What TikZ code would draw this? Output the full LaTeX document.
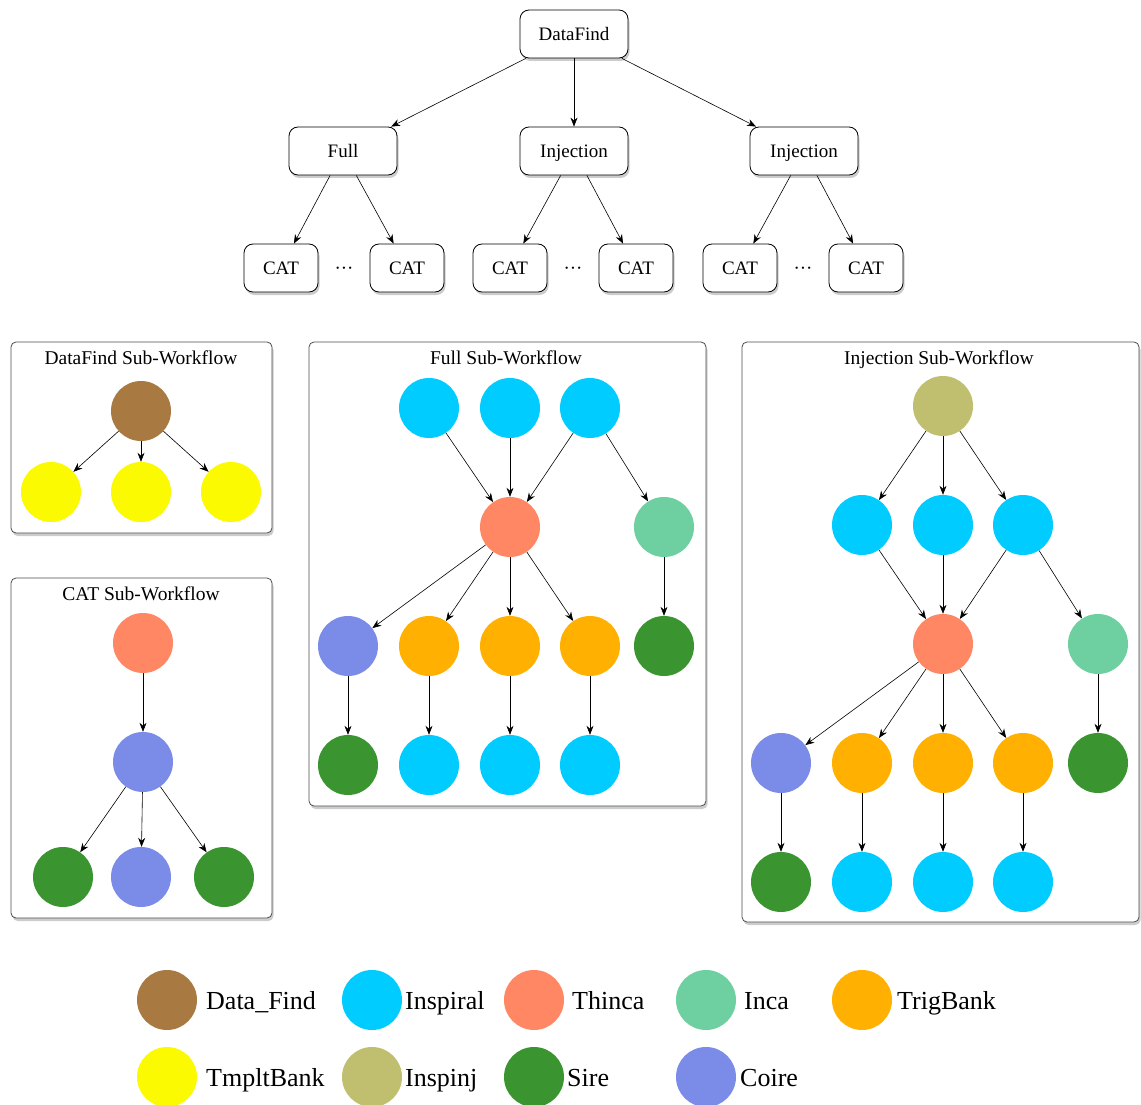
\documentclass[tikz,border=0pt]{standalone}
\usepackage{fontspec}
\setmainfont{Liberation Serif}
\usetikzlibrary{arrows.meta,shadows}

% job-type colours
\definecolor{cDataFind}{RGB}{169,121,66}
\definecolor{cTmplt}{RGB}{252,250,0}
\definecolor{cInspiral}{RGB}{0,204,255}
\definecolor{cThinca}{RGB}{255,135,100}
\definecolor{cInca}{RGB}{110,208,160}
\definecolor{cTrig}{RGB}{255,176,0}
\definecolor{cInspinj}{RGB}{191,191,111}
\definecolor{cSire}{RGB}{58,149,48}
\definecolor{cCoire}{RGB}{123,139,232}

\begin{document}
\begin{tikzpicture}[x=1pt,y=-1pt,
  wfbox/.style={draw=black, line width=0.8pt, rounded corners=9pt, fill=white,
    minimum height=48pt, inner sep=0pt, font=\fontsize{19}{22}\selectfont,
    text height=12.5pt, text depth=0pt,
    drop shadow={shadow xshift=1.5pt, shadow yshift=-3pt, opacity=0.4}},
  wide/.style={wfbox, minimum width=108pt},
  narrow/.style={wfbox, minimum width=74pt},
  panel/.style={draw=black!70, line width=0.8pt, rounded corners=5pt, fill=white,
    inner sep=0pt, drop shadow={shadow xshift=1.5pt, shadow yshift=-3pt, opacity=0.4}},
  ptitle/.style={font=\fontsize{19.5}{22}\selectfont, inner sep=0pt,
    text height=12.9pt, text depth=0pt},
  job/.style={circle, minimum size=60pt, inner sep=0pt},
  datafind/.style={job, fill=cDataFind},
  tmplt/.style={job, fill=cTmplt},
  inspiral/.style={job, fill=cInspiral},
  thinca/.style={job, fill=cThinca},
  inca/.style={job, fill=cInca},
  trig/.style={job, fill=cTrig},
  inspinj/.style={job, fill=cInspinj},
  sire/.style={job, fill=cSire},
  coire/.style={job, fill=cCoire},
  flow/.style={-{Stealth[length=9pt,width=7pt]}, line width=0.6pt, black},
  legtext/.style={anchor=west, inner sep=0pt, font=\fontsize{26}{30}\selectfont,
    text height=17.2pt, text depth=0pt},
  dots/.style={font=\fontsize{19}{22}\selectfont, inner sep=0pt}
]
\useasboundingbox (0,0) rectangle (1141,1105);

% ---------------- top-level workflow tree ----------------
\node[wide] (top) at (574,34) {DataFind};
\node[wide] (full) at (343,151) {Full};
\node[wide] (inj1) at (574,151) {Injection};
\node[wide] (inj2) at (804,151) {Injection};

\node[narrow] (catA1) at (281,268) {CAT};
\node[narrow] (catA2) at (407,268) {CAT};
\node[narrow] (catB1) at (510,268) {CAT};
\node[narrow] (catB2) at (636,268) {CAT};
\node[narrow] (catC1) at (740,268) {CAT};
\node[narrow] (catC2) at (866,268) {CAT};
\node[dots] (dotA) at (344,271) {···};
\node[dots] (dotB) at (573,271) {···};
\node[dots] (dotC) at (803,271) {···};

\draw[flow] (top) -- (full);
\draw[flow] (top) -- (inj1);
\draw[flow] (top) -- (inj2);
\draw[flow] (full) -- (catA1);
\draw[flow] (full) -- (catA2);
\draw[flow] (inj1) -- (catB1);
\draw[flow] (inj1) -- (catB2);
\draw[flow] (inj2) -- (catC1);
\draw[flow] (inj2) -- (catC2);

% ---------------- DataFind sub-workflow ----------------
\node[panel, minimum width=261pt, minimum height=191pt] (pDF) at (141.5,437.5) {};
\node[ptitle] (tDF) at (141,358) {DataFind Sub-Workflow};
\node[datafind] (df0) at (141,411) {};
\node[tmplt] (df1) at (51,492) {};
\node[tmplt] (df2) at (141,492) {};
\node[tmplt] (df3) at (231,492) {};
\foreach \t in {df1,df2,df3} \draw[flow] (df0) -- (\t);

% ---------------- CAT sub-workflow ----------------
\node[panel, minimum width=261pt, minimum height=340pt] (pCAT) at (141.5,748) {};
\node[ptitle] (tCAT) at (141,594) {CAT Sub-Workflow};
\node[thinca] (c0) at (143,643) {};
\node[coire] (c1) at (143,762) {};
\node[sire] (c2) at (63,877) {};
\node[coire] (c3) at (141,877) {};
\node[sire] (c4) at (224,877) {};
\draw[flow] (c0) -- (c1);
\foreach \t in {c2,c3,c4} \draw[flow] (c1) -- (\t);

% ---------------- Full sub-workflow ----------------
\node[panel, minimum width=397pt, minimum height=464pt] (pFull) at (507.5,574) {};
\node[ptitle] (tFull) at (506,358) {Full Sub-Workflow};
\node[inspiral] (fi1) at (429,408) {};
\node[inspiral] (fi2) at (510,408) {};
\node[inspiral] (fi3) at (590,408) {};
\node[thinca] (fth) at (510,527) {};
\node[inca] (finc) at (664,527) {};
\node[coire] (fco) at (348,646) {};
\node[trig] (ft1) at (429,646) {};
\node[trig] (ft2) at (510,646) {};
\node[trig] (ft3) at (590,646) {};
\node[sire] (fsi) at (664,646) {};
\node[sire] (fcs) at (348,765) {};
\node[inspiral] (fo1) at (429,765) {};
\node[inspiral] (fo2) at (510,765) {};
\node[inspiral] (fo3) at (590,765) {};
\foreach \s in {fi1,fi2,fi3} \draw[flow] (\s) -- (fth);
\draw[flow] (fi3) -- (finc);
\foreach \t in {fco,ft1,ft2,ft3} \draw[flow] (fth) -- (\t);
\draw[flow] (finc) -- (fsi);
\draw[flow] (fco) -- (fcs);
\draw[flow] (ft1) -- (fo1);
\draw[flow] (ft2) -- (fo2);
\draw[flow] (ft3) -- (fo3);

% ---------------- Injection sub-workflow ----------------
\node[panel, minimum width=397pt, minimum height=580pt] (pInj) at (940.5,632) {};
\node[ptitle] (tInj) at (939,358) {Injection Sub-Workflow};
\node[inspinj] (ij0) at (943,406) {};
\node[inspiral] (ii1) at (862,525) {};
\node[inspiral] (ii2) at (943,525) {};
\node[inspiral] (ii3) at (1023,525) {};
\node[thinca] (ith) at (943,644) {};
\node[inca] (iinc) at (1098,644) {};
\node[coire] (ico) at (781,763) {};
\node[trig] (it1) at (862,763) {};
\node[trig] (it2) at (943,763) {};
\node[trig] (it3) at (1023,763) {};
\node[sire] (isi) at (1098,763) {};
\node[sire] (ics) at (781,882) {};
\node[inspiral] (io1) at (862,882) {};
\node[inspiral] (io2) at (943,882) {};
\node[inspiral] (io3) at (1023,882) {};
\foreach \t in {ii1,ii2,ii3} \draw[flow] (ij0) -- (\t);
\foreach \s in {ii1,ii2,ii3} \draw[flow] (\s) -- (ith);
\draw[flow] (ii3) -- (iinc);
\foreach \t in {ico,it1,it2,it3} \draw[flow] (ith) -- (\t);
\draw[flow] (iinc) -- (isi);
\draw[flow] (ico) -- (ics);
\draw[flow] (it1) -- (io1);
\draw[flow] (it2) -- (io2);
\draw[flow] (it3) -- (io3);

% ---------------- legend ----------------
\node[datafind] (lg1) at (167,1000) {};
\node[legtext] (lt1) at (206,1001) {Data\_Find};
\node[inspiral] (lg2) at (372,1000) {};
\node[legtext] (lt2) at (405,1001) {Inspiral};
\node[thinca] (lg3) at (534,1000) {};
\node[legtext] (lt3) at (572,1001) {Thinca};
\node[inca] (lg4) at (706,1000) {};
\node[legtext] (lt4) at (744,1001) {Inca};
\node[trig] (lg5) at (862,1000) {};
\node[legtext] (lt5) at (897,1001) {TrigBank};

\node[tmplt] (lg6) at (167,1077) {};
\node[legtext] (lt6) at (206,1078) {TmpltBank};
\node[inspinj] (lg7) at (372,1077) {};
\node[legtext] (lt7) at (405,1078) {Inspinj};
\node[sire] (lg8) at (534,1077) {};
\node[legtext] (lt8) at (567,1078) {Sire};
\node[coire] (lg9) at (706,1077) {};
\node[legtext] (lt9) at (740,1078) {Coire};
\end{tikzpicture}
\end{document}
